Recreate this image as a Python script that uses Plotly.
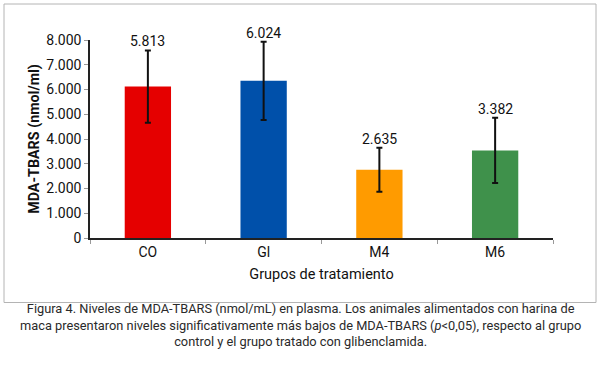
import plotly.graph_objects as go

categories = ["CO", "Gl", "M4", "M6"]
bar_heights = [6120, 6350, 2760, 3540]
error_values = [1460, 1580, 890, 1320]
value_labels = ["5.813", "6.024", "2.635", "3.382"]
bar_colors = ["#e50000", "#0050aa", "#ff9b00", "#3f914b"]
y_ticks = [0, 1000, 2000, 3000, 4000, 5000, 6000, 7000, 8000]

caption_lines = [
    "Figura 4. Niveles de MDA-TBARS (nmol/mL) en plasma. Los animales alimentados con harina de",
    "maca presentaron niveles significativamente más bajos de MDA-TBARS (<i>p</i>&lt;0,05), respecto al grupo",
    "control y el grupo tratado con glibenclamida.",
]

FONT = "Liberation Sans Narrow, Arial Narrow, Roboto, Liberation Sans, sans-serif"

fig = go.Figure()
fig.add_trace(go.Bar(
    x=categories, y=bar_heights,
    marker=dict(color=bar_colors, line=dict(width=0)),
    width=0.4,
    error_y=dict(type="data", array=error_values, visible=True,
                 color="#111111", thickness=2, width=3),
    showlegend=False,
    hoverinfo="skip",
))

annotations = []
for c, h, e, t in zip(categories, bar_heights, error_values, value_labels):
    annotations.append(dict(x=c, y=h + e, text=t, showarrow=False,
                            xref="x", yref="y", yanchor="bottom", yshift=-1,
                            font=dict(family=FONT, size=14, color="#111111")))

# plot area pixel geometry: x 90..553, y 40..238
def py(p):
    return (238 - p) / 198.0

annotations.append(dict(x=(300 - 90) / 463.0, y=py(325), xref="paper", yref="paper",
                        text="<br>".join(caption_lines), showarrow=False,
                        xanchor="center", yanchor="middle", align="center",
                        font=dict(family=FONT, size=12.8, color="#2a2a2a")))

fig.update_layout(
    width=600, height=369,
    margin=dict(l=90, r=47, t=40, b=131, autoexpand=False),
    paper_bgcolor="white", plot_bgcolor="white",
    separators=",.",
    font=dict(family=FONT, size=14, color="#111111"),
    annotations=annotations,
    shapes=[dict(type="rect", xref="paper", yref="paper",
                 x0=(4 - 90) / 463.0, x1=(596 - 90) / 463.0,
                 y0=py(302.5), y1=py(4),
                 line=dict(color="#b4b4b4", width=1), fillcolor="rgba(0,0,0,0)",
                 layer="below")],
    xaxis=dict(
        automargin=False,
        showline=True, linecolor="#222222", linewidth=1.5,
        ticks="outside", tickson="boundaries", ticklen=4, tickcolor="#999999",
        tickfont=dict(family=FONT, size=14, color="#111111"),
        title=dict(text="Grupos de tratamiento", standoff=10,
                   font=dict(family=FONT, size=14.5, color="#111111")),
        showgrid=False, zeroline=False,
    ),
    yaxis=dict(
        automargin=False,
        range=[0, 8000], tickvals=y_ticks, tickformat=",d",
        showline=True, linecolor="#222222", linewidth=1.5,
        ticks="outside", ticklen=4, tickcolor="#999999",
        tickfont=dict(family=FONT, size=14, color="#111111"),
        title=dict(text="<b>MDA-TBARS (nmol/ml)</b>", standoff=3,
                   font=dict(family=FONT, size=14.3, color="#111111")),
        showgrid=False, zeroline=False,
    ),
)

fig.write_html("out.html", config={"displayModeBar": False},
               post_script="document.body.style.margin='0';document.body.style.overflow='hidden';")
